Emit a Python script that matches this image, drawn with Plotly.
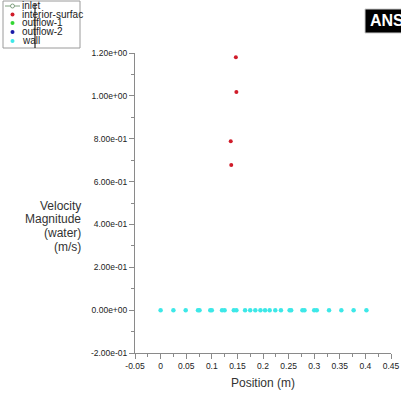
import plotly.graph_objects as go

# ---- data ----
legend_names = ["inlet", "interior-surfac", "outflow-1", "outflow-2", "wall"]
legend_colors = ["#7fa07f", "#d01c2a", "#33d633", "#1a1aa8", "#3de8e8"]

interior_x = [0.147, 0.148, 0.137, 0.138]
interior_y = [1.180, 1.018, 0.788, 0.677]

wall_x = [0.0, 0.025, 0.049, 0.073, 0.076, 0.097, 0.100, 0.120, 0.125, 0.143,
          0.148, 0.165, 0.175, 0.185, 0.195, 0.204, 0.213, 0.224, 0.235, 0.252,
          0.255, 0.277, 0.281, 0.300, 0.305, 0.329, 0.353, 0.377, 0.402]
wall_y = [0.0, 0.0, 0.0, 0.0, 0.0, 0.0, 0.0, 0.0, 0.0, 0.0,
          0.0, 0.0, 0.0, 0.0, 0.0, 0.0, 0.0, 0.0, 0.0, 0.0,
          0.0, 0.0, 0.0, 0.0, 0.0, 0.0, 0.0, 0.0, 0.0]

x_tickvals = [-0.05, 0, 0.05, 0.1, 0.15, 0.2, 0.25, 0.3, 0.35, 0.4, 0.45]
x_ticktext = ["-0.05", "0", "0.05", "0.1", "0.15", "0.2", "0.25", "0.3", "0.35", "0.4", "0.45"]
y_tickvals = [-0.2, 0.0, 0.2, 0.4, 0.6, 0.8, 1.0, 1.2]
y_ticktext = ["-2.00e-01", "0.00e+00", "2.00e-01", "4.00e-01", "6.00e-01",
              "8.00e-01", "1.00e+00", "1.20e+00"]

x_title = "Position (m)"
y_title_lines = ["Velocity", "Magnitude", "(water)", "(m/s)"]

# ---- layout geometry ----
W, H = 401, 408
ML, MR, MT, MB = 135, 10, 53, 55
PW, PH = W - ML - MR, H - MT - MB

def px(x):
    return (x - ML) / PW

def py(y):
    return (H - MB - y) / PH

FONT = "Liberation Sans Narrow, Arial Narrow, Liberation Sans, Arial"

fig = go.Figure()
fig.add_trace(go.Scatter(x=wall_x, y=wall_y, mode="markers",
                         marker=dict(color=legend_colors[4], size=4.5),
                         showlegend=False, cliponaxis=False))
fig.add_trace(go.Scatter(x=interior_x, y=interior_y, mode="markers",
                         marker=dict(color=legend_colors[1], size=4),
                         showlegend=False, cliponaxis=False))

axis_common = dict(showline=True, linecolor="#8a8a8a", linewidth=1,
                   showgrid=False, zeroline=False, ticks="outside",
                   tickcolor="#8a8a8a", ticklen=5, tickwidth=1,
                   automargin=False,
                   tickfont=dict(family=FONT, size=8.5, color="#222"))

fig.update_layout(
    width=W, height=H,
    margin=dict(l=ML, r=MR, t=MT, b=MB),
    paper_bgcolor="white", plot_bgcolor="white",
    showlegend=False,
    xaxis=dict(range=[-0.05, 0.45], tickvals=x_tickvals, ticktext=x_ticktext,
               minor=dict(dtick=0.025, tick0=0, ticks="outside", ticklen=3,
                          tickcolor="#8a8a8a"),
               **axis_common),
    yaxis=dict(range=[-0.2, 1.2], tickvals=y_tickvals, ticktext=y_ticktext,
               minor=dict(dtick=0.1, tick0=0, ticks="outside", ticklen=3,
                          tickcolor="#8a8a8a"),
               **axis_common),
)

annotations = []
shapes = []

# y axis title, one line per annotation for tight spacing
title_y0 = 206
for i, line in enumerate(y_title_lines):
    annotations.append(dict(text=line, xref="paper", yref="paper",
                            x=px(83), y=py(title_y0 + 13.5 * i),
                            xanchor="right", yanchor="middle",
                            showarrow=False,
                            font=dict(family=FONT, size=12, color="#333")))
annotations.append(dict(text=x_title, xref="paper", yref="paper",
                        x=px(263), y=py(383), xanchor="center", yanchor="middle",
                        showarrow=False,
                        font=dict(family=FONT, size=12, color="#333")))

# manual legend
lx0, lx1, ly0, ly1 = 3, 80, 1, 48
shapes.append(dict(type="rect", xref="paper", yref="paper",
                   x0=px(lx0), x1=px(lx1), y0=py(ly0), y1=py(ly1),
                   line=dict(color="#9a9a9a", width=1), fillcolor="white"))
row_y = [6, 14.5, 23, 32, 41]
for i, name in enumerate(legend_names):
    yy = row_y[i]
    if i == 0:
        shapes.append(dict(type="line", xref="paper", yref="paper",
                           x0=px(5), x1=px(20), y0=py(yy), y1=py(yy),
                           line=dict(color=legend_colors[0], width=1)))
        shapes.append(dict(type="circle", xref="paper", yref="paper",
                           x0=px(10.5), x1=px(14.5), y0=py(yy - 2), y1=py(yy + 2),
                           line=dict(color=legend_colors[0], width=1),
                           fillcolor="white"))
    else:
        shapes.append(dict(type="circle", xref="paper", yref="paper",
                           x0=px(10.5), x1=px(14.5), y0=py(yy - 2), y1=py(yy + 2),
                           line=dict(color=legend_colors[i], width=0),
                           fillcolor=legend_colors[i]))
    annotations.append(dict(text=name, xref="paper", yref="paper",
                            x=px(20), y=py(yy), xanchor="left", yanchor="middle",
                            showarrow=False,
                            font=dict(family=FONT, size=10, color="#222")))
# vertical artifact line through legend
shapes.append(dict(type="line", xref="paper", yref="paper",
                   x0=px(35), x1=px(35), y0=py(4), y1=py(48),
                   line=dict(color="black", width=1)))

# ANSYS logo (cut off by window edge)
shapes.append(dict(type="rect", xref="paper", yref="paper",
                   x0=px(365), x1=px(410), y0=py(9), y1=py(33),
                   line=dict(color="#cccccc", width=1), fillcolor="black"))
annotations.append(dict(text="<b>ANSYS</b>", xref="paper", yref="paper",
                        x=px(368), y=py(21), xanchor="left", yanchor="middle",
                        showarrow=False,
                        font=dict(family=FONT, size=16, color="white")))

fig.update_layout(annotations=annotations, shapes=shapes)
fig.write_html("out.html",
               config={"displayModeBar": False},
               post_script="document.body.style.margin='0px';"
                           "document.body.style.padding='0px';")
